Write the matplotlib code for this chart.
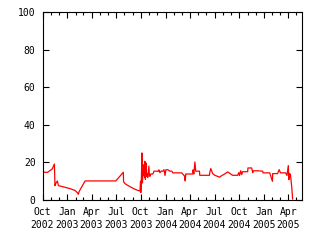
import matplotlib
matplotlib.use('Agg')
import matplotlib.pyplot as plt
import matplotlib.dates as mdates
import pandas as pd

# values
dates = [
    '2002-10-01', '2002-10-20', '2002-11-06', '2002-11-14', '2002-11-16',
    '2002-11-20', '2002-11-25', '2002-11-29', '2002-12-16', '2003-01-11',
    '2003-01-30', '2003-02-07', '2003-02-11', '2003-02-14', '2003-03-08',
    '2003-06-30', '2003-07-28', '2003-07-29', '2003-08-03', '2003-08-15',
    '2003-08-25', '2003-09-09', '2003-09-21', '2003-09-28', '2003-09-30',
    '2003-10-01', '2003-10-03', '2003-10-05', '2003-10-07', '2003-10-09',
    '2003-10-11', '2003-10-13', '2003-10-15', '2003-10-16', '2003-10-18',
    '2003-10-20', '2003-10-22', '2003-10-24', '2003-10-27', '2003-10-31',
    '2003-11-02', '2003-11-04', '2003-11-07', '2003-11-15', '2003-11-19',
    '2003-12-05', '2003-12-07', '2003-12-11', '2003-12-15', '2003-12-22',
    '2003-12-26', '2003-12-30', '2004-01-02', '2004-01-09', '2004-01-17',
    '2004-01-24', '2004-01-28', '2004-02-23', '2004-03-01', '2004-03-11',
    '2004-03-14', '2004-03-16', '2004-04-11', '2004-04-12', '2004-04-15',
    '2004-04-19', '2004-04-22', '2004-05-06', '2004-05-07', '2004-06-12',
    '2004-06-13', '2004-06-17', '2004-06-24', '2004-07-02', '2004-07-20',
    '2004-07-24', '2004-08-04', '2004-08-19', '2004-09-06', '2004-09-25',
    '2004-09-29', '2004-10-02', '2004-10-06', '2004-10-10', '2004-10-13',
    '2004-11-01', '2004-11-02', '2004-11-16', '2004-11-20', '2004-11-21',
    '2004-12-08', '2004-12-27', '2004-12-28', '2005-01-07', '2005-01-22',
    '2005-02-01', '2005-02-02', '2005-02-20', '2005-02-26', '2005-03-03',
    '2005-03-22', '2005-03-27', '2005-04-01', '2005-04-03', '2005-04-06',
    '2005-04-09', '2005-04-14', '2005-04-17',
]
values = [
    14.7, 14.7, 16.5, 19.1, 7.6,
    9.0, 10.1, 7.6, 7.0, 6.0,
    5.0, 3.9, 3.0, 4.5, 10.1,
    10.1, 14.7, 9.7, 8.7, 7.6,
    6.8, 5.7, 5.0, 4.8, 10.0,
    3.9, 10.0, 25.0, 9.0, 15.0,
    13.0, 18.8, 12.0, 20.6, 11.0,
    19.7, 12.5, 14.0, 12.0, 18.0,
    13.0, 12.5, 13.8, 13.8, 15.3,
    15.3, 16.0, 14.5, 15.3, 15.3,
    16.1, 13.0, 16.0, 16.1, 15.3,
    15.3, 14.4, 14.4, 14.4, 12.8,
    10.1, 13.8, 13.8, 16.0, 13.8,
    20.2, 15.3, 15.3, 13.1, 13.1,
    14.4, 16.7, 14.0, 13.1, 12.1,
    12.6, 13.5, 14.9, 13.1, 13.1,
    14.5, 13.0, 15.5, 13.5, 15.0,
    15.0, 17.0, 17.0, 14.5, 15.5,
    15.5, 15.3, 14.4, 14.4, 14.4,
    9.9, 14.0, 14.0, 16.1, 14.4,
    14.4, 13.0, 18.3, 10.8, 14.0,
    13.5, 6.4, 0.5,
]
yticks = [0, 20, 40, 60, 80, 100]

x = pd.to_datetime(dates)

plt.rcParams['font.family'] = ['DejaVu Sans Mono']

fig = plt.figure(figsize=(3.2, 2.4), dpi=100)
ax = fig.add_axes([0.133, 0.167, 0.81, 0.783])
ax.plot(x, values, color='#ff0000', linewidth=0.9)

ax.set_ylim(0, 100)
ax.set_yticks(yticks)
ax.set_xlim(pd.Timestamp('2002-10-01'), pd.Timestamp('2005-05-21'))
ax.xaxis.set_major_locator(mdates.MonthLocator(bymonth=[1, 4, 7, 10]))
ax.xaxis.set_minor_locator(mdates.MonthLocator())
ax.xaxis.set_major_formatter(mdates.DateFormatter('%b\n%Y'))

ax.tick_params(which='both', direction='in', top=True, right=True,
               labelsize=7, width=0.8, colors='black')
ax.tick_params(which='major', length=4)
ax.tick_params(which='minor', length=2)
ax.tick_params(axis='x', which='major', pad=5)
ax.tick_params(axis='y', which='major', pad=5)
for lab in ax.get_xticklabels():
    lab.set_linespacing(1.35)
for s in ax.spines.values():
    s.set_linewidth(0.8)

fig.savefig('out.png', dpi=100)
